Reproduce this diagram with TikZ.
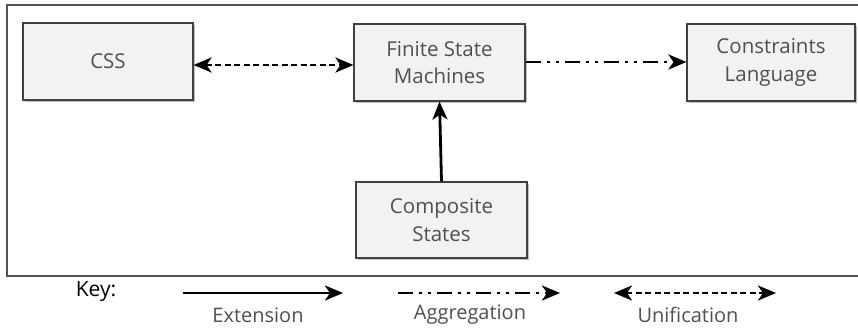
\documentclass[tikz,border=0pt]{standalone}
\usepackage{fontspec}
\setmainfont{Open Sans}
\usetikzlibrary{arrows.meta,shadows}
\definecolor{boxfill}{HTML}{F2F2F2}
\definecolor{boxline}{HTML}{404040}
\definecolor{txt}{HTML}{505050}
\tikzset{
  box/.style={draw=boxline, line width=1.1pt, fill=boxfill, minimum width=170pt, minimum height=77pt,
    align=center, text=txt, font=\fontsize{20.5}{27.5}\selectfont,
    drop shadow={shadow xshift=2pt, shadow yshift=-2pt, opacity=0.25, fill=black}},
  conn/.style={line width=2.8pt, black},
  tip/.style={-{Stealth[length=18pt,width=15pt,inset=5pt]}},
  unif/.style={conn, dash pattern=on 6pt off 3.5pt, {Stealth[length=18pt,width=15pt,inset=5pt]}-{Stealth[length=18pt,width=15pt,inset=5pt]}},
  aggr/.style={conn, dash pattern=on 15pt off 6pt on 3pt off 6pt on 3pt off 6pt, tip},
  keytext/.style={text=txt, font=\fontsize{20}{24}\selectfont},
}
\begin{document}
\begin{tikzpicture}[x=1pt,y=-1pt]
\useasboundingbox (0,0) rectangle (858,327);
\draw[draw=boxline!90, line width=1.2pt] (7,5) rectangle (862,276);
\node[box] (css) at (108,61.5) {CSS};
\node[box, minimum width=171pt] (fsm) at (439.5,62.5) {Finite State\\Machines};
\node[box, minimum width=168pt] (con) at (771,62.5) {Constraints\\Language};
\node[box, minimum width=171pt, minimum height=76pt] (comp) at (441.5,220) {Composite\\States};
\draw[unif] ([yshift=-3.5pt]css.east) -- ([yshift=-2.5pt]fsm.west);
\draw[aggr] ([yshift=0.5pt]fsm.east) -- ([yshift=0.5pt]con.west);
\draw[conn, tip] (comp.north) -- (fsm.south);
% key
\node[font=\fontsize{21}{24}\selectfont, text=black] (key) at (96,292) {Key:};
\coordinate (e1) at (183,293); \coordinate (e2) at (343,293);
\coordinate (a1) at (398,293); \coordinate (a2) at (560,293);
\coordinate (u1) at (614,293); \coordinate (u2) at (776,293);
\draw[conn, tip] (e1) -- (e2);
\draw[aggr] (a1) -- (a2);
\draw[unif] (u1) -- (u2);
\node[keytext] (ext) at (258,315) {Extension};
\node[keytext] (agg) at (470,315) {Aggregation};
\node[keytext] (uni) at (688,315) {Unification};
\end{tikzpicture}
\end{document}
